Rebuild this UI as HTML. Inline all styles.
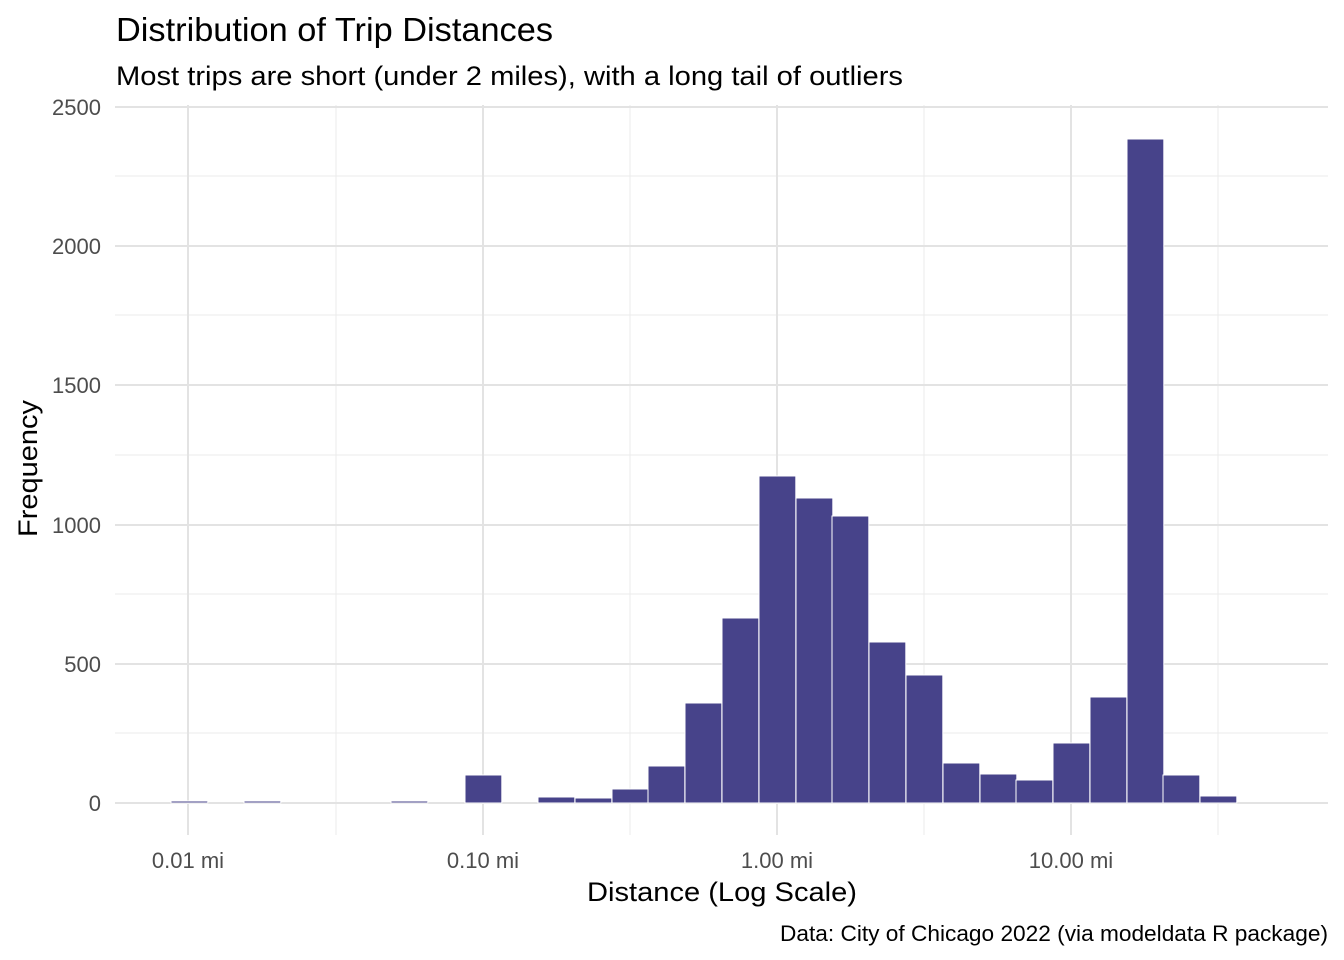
<!DOCTYPE html>
<html><head><style>body{margin:0;background:#fff}svg{display:block;font-family:"Liberation Sans",sans-serif}</style></head><body>
<svg width="1344" height="960" xmlns="http://www.w3.org/2000/svg">
<rect width="1344" height="960" fill="#fff"/>
<g stroke="#ebebeb" stroke-width="1">
<line x1="115" x2="1328" y1="176" y2="176"/><line x1="115" x2="1328" y1="315" y2="315"/><line x1="115" x2="1328" y1="455" y2="455"/><line x1="115" x2="1328" y1="594" y2="594"/><line x1="115" x2="1328" y1="733" y2="733"/>
<line x1="336" x2="336" y1="105" y2="835"/><line x1="630" x2="630" y1="105" y2="835"/><line x1="924" x2="924" y1="105" y2="835"/><line x1="1218" x2="1218" y1="105" y2="835"/>
</g>
<g stroke="#e3e3e3" stroke-width="2">
<line x1="115" x2="1328" y1="107" y2="107"/><line x1="115" x2="1328" y1="246" y2="246"/><line x1="115" x2="1328" y1="385" y2="385"/><line x1="115" x2="1328" y1="525" y2="525"/><line x1="115" x2="1328" y1="664" y2="664"/><line x1="115" x2="1328" y1="803" y2="803"/>
<line x1="188" x2="188" y1="105" y2="835"/><line x1="483" x2="483" y1="105" y2="835"/><line x1="777" x2="777" y1="105" y2="835"/><line x1="1071" x2="1071" y1="105" y2="835"/>
</g>
<g fill="#47438a" stroke="#fff" stroke-width="1">
<rect x="171" y="801" width="36.8" height="2"/>
<rect x="244" y="801" width="36.8" height="2"/>
<rect x="391" y="801" width="36.8" height="2"/>
<rect x="465" y="775" width="36.8" height="28"/>
<rect x="538" y="797" width="36.8" height="6"/>
<rect x="575" y="798" width="36.8" height="5"/>
<rect x="612" y="789" width="36.8" height="14"/>
<rect x="648" y="766" width="36.8" height="37"/>
<rect x="685" y="703" width="36.8" height="100"/>
<rect x="722" y="618" width="36.8" height="185"/>
<rect x="759" y="476" width="36.8" height="327"/>
<rect x="796" y="498" width="36.8" height="305"/>
<rect x="832" y="516" width="36.8" height="287"/>
<rect x="869" y="642" width="36.8" height="161"/>
<rect x="906" y="675" width="36.8" height="128"/>
<rect x="943" y="763" width="36.8" height="40"/>
<rect x="980" y="774" width="36.8" height="29"/>
<rect x="1016" y="780" width="36.8" height="23"/>
<rect x="1053" y="743" width="36.8" height="60"/>
<rect x="1090" y="697" width="36.8" height="106"/>
<rect x="1127" y="139" width="36.8" height="664"/>
<rect x="1163" y="775" width="36.8" height="28"/>
<rect x="1200" y="796" width="36.8" height="7"/>
</g>
<g fill="#4d4d4d" font-size="22" text-anchor="end">
<text x="101" y="115">2500</text><text x="101" y="254">2000</text><text x="101" y="393">1500</text><text x="101" y="533">1000</text><text x="101" y="672">500</text><text x="101" y="811">0</text>
</g>
<g fill="#4d4d4d" font-size="22" text-anchor="middle">
<text x="188" y="868">0.01 mi</text><text x="483" y="868">0.10 mi</text><text x="777" y="868">1.00 mi</text><text x="1071" y="868">10.00 mi</text>
</g>
<text x="587" y="901" font-size="27" textLength="270" lengthAdjust="spacingAndGlyphs">Distance (Log Scale)</text>
<text transform="translate(37,537) rotate(-90)" font-size="27" textLength="137" lengthAdjust="spacingAndGlyphs">Frequency</text>
<text x="116" y="41" font-size="33" textLength="437" lengthAdjust="spacingAndGlyphs">Distribution of Trip Distances</text>
<text x="116" y="85" font-size="27" textLength="787" lengthAdjust="spacingAndGlyphs">Most trips are short (under 2 miles), with a long tail of outliers</text>
<text x="780" y="941" font-size="22" textLength="548" lengthAdjust="spacingAndGlyphs">Data: City of Chicago 2022 (via modeldata R package)</text>
</svg>
</body></html>
